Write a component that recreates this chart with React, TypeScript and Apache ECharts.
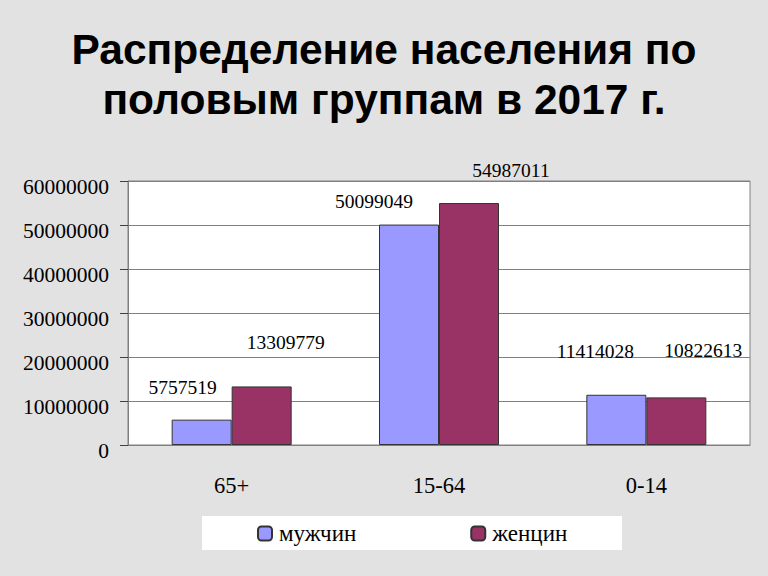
import React, { useEffect, useRef } from "react";
import * as echarts from "echarts";

const categories = ["65+", "15-64", "0-14"];
const men = [5757519, 50099049, 11414028];
const women = [13309779, 54987011, 10822613];
const seriesNames = ["мужчин", "женцин"];
const yTicks = { min: 0, max: 60000000, interval: 10000000 };
const titleText = "Распределение населения по\nполовым группам в 2017 г.";

// label offsets (styling only)
const menLabelOffsets = [[-19, -17], [-35, -8], [-21, -28]];
const womenLabelOffsets = [[24, -29], [42, -18], [27, -32]];

export default function App() {
  const ref = useRef<HTMLDivElement>(null);
  useEffect(() => {
    if (!ref.current) return;
    const chart = echarts.init(ref.current, null, { renderer: "svg" });
    const serif = "Liberation Serif";
    const labelStyle = {
      show: true,
      position: "top",
      fontFamily: serif,
      fontSize: 19.5,
      color: "#000",
    };
    chart.setOption({
      animation: false,
      backgroundColor: "#e2e2e2",
      title: {
        text: titleText,
        left: "center",
        top: 19,
        textStyle: {
          fontFamily: "Liberation Sans",
          fontWeight: "bold",
          fontSize: 42.5,
          lineHeight: 50,
          color: "#000",
        },
      },
      graphic: [
        {
          type: "rect",
          shape: { x: 202, y: 516, width: 420, height: 34 },
          style: { fill: "#fff" },
          z: -1,
        },
      ],
      legend: {
        left: 257,
        top: 519,
        padding: 0,
        itemWidth: 14,
        itemHeight: 14,
        itemGap: 114,
        textStyle: {
          fontFamily: serif,
          fontSize: 23,
          lineHeight: 23,
          color: "#000",
          padding: [6, 0, 0, 2],
        },
        data: seriesNames,
      },
      grid: {
        left: 128,
        top: 181,
        width: 622,
        height: 264,
        show: true,
        backgroundColor: "#fff",
        borderColor: "#808080",
        borderWidth: 1,
      },
      xAxis: {
        type: "category",
        data: categories,
        axisLine: { lineStyle: { color: "#808080" } },
        axisTick: { length: 7, lineStyle: { color: "#404040" } },
        axisLabel: {
          margin: 29,
          fontFamily: serif,
          fontSize: 22.5,
          color: "#000",
        },
      },
      yAxis: {
        type: "value",
        min: yTicks.min,
        max: yTicks.max,
        interval: yTicks.interval,
        axisLine: { show: true, lineStyle: { color: "#808080" } },
        axisTick: { show: true, length: 8, lineStyle: { color: "#404040" } },
        splitLine: { lineStyle: { color: "#808080" } },
        axisLabel: {
          margin: 19,
          color: "#000",
          formatter: (v: number) => "{a|" + String(v) + "}",
          rich: {
            a: {
              fontFamily: serif,
              fontSize: 21.5,
              color: "#000",
              padding: [12, 0, 0, 0],
            },
          },
        },
      },
      series: [
        {
          name: seriesNames[0],
          type: "bar",
          barWidth: 60,
          barGap: "0%",
          itemStyle: { color: "#9999ff", borderColor: "#333", borderWidth: 1 },
          data: men.map((v, i) => ({
            value: v,
            label: { ...labelStyle, offset: menLabelOffsets[i] },
          })),
        },
        {
          name: seriesNames[1],
          type: "bar",
          barWidth: 60,
          barGap: "0%",
          itemStyle: { color: "#993366", borderColor: "#333", borderWidth: 1 },
          data: women.map((v, i) => ({
            value: v,
            label: { ...labelStyle, offset: womenLabelOffsets[i] },
          })),
        },
      ],
    });
    return () => chart.dispose();
  }, []);
  return (
    <div
      ref={ref}
      style={{ position: "fixed", left: 0, top: 0, width: 768, height: 576 }}
    />
  );
}
